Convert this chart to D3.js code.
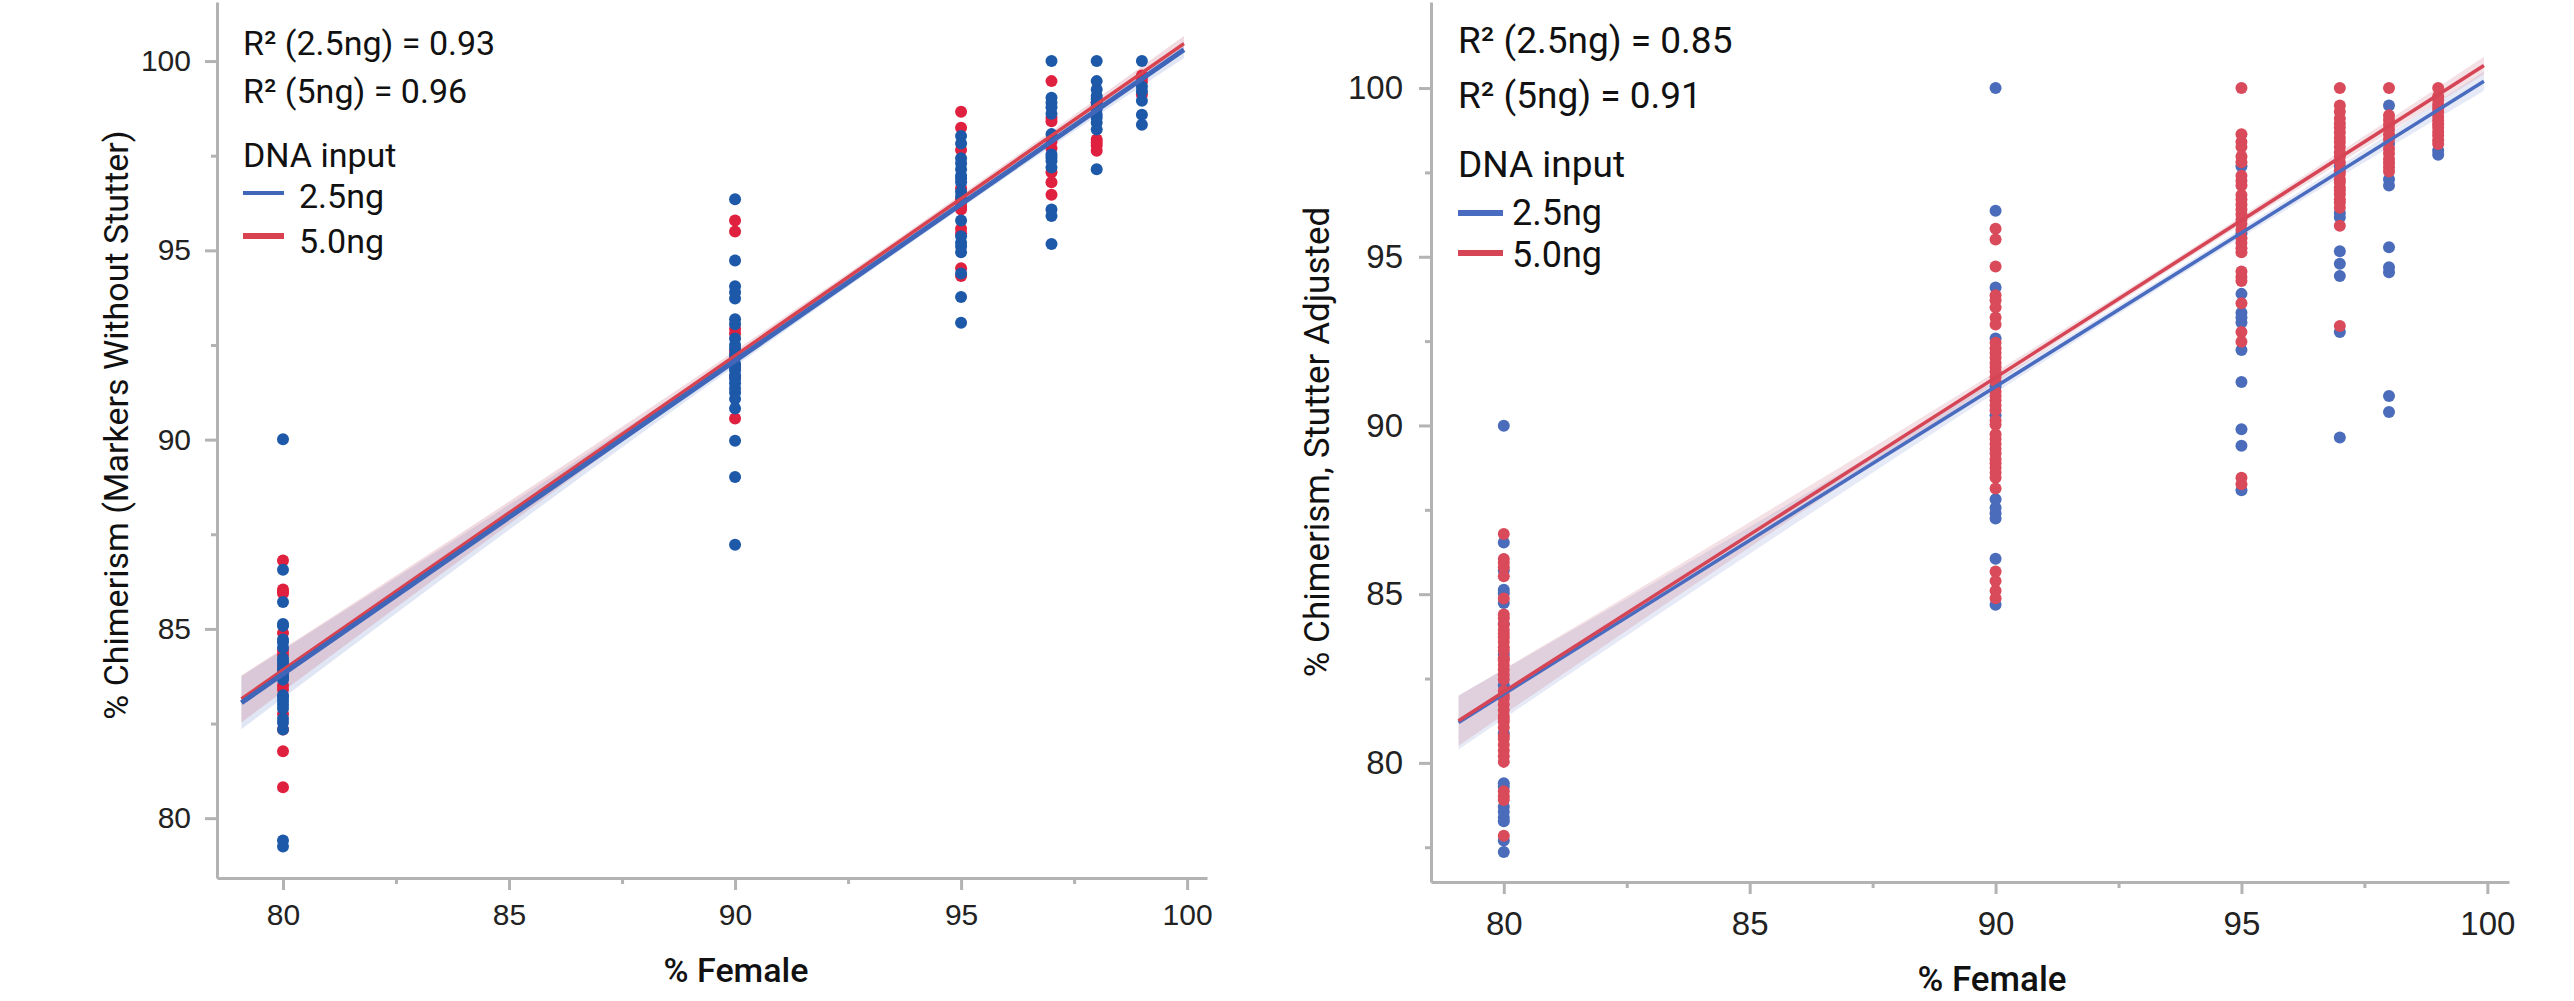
<!DOCTYPE html>
<html>
<head>
<meta charset="utf-8">
<script src="https://cdn.jsdelivr.net/npm/d3@7"></script>
<style>
  body { margin: 0; background: #fff; }
  svg { display: block; font-family: Roboto, "Noto Sans", sans-serif; }
  .axis path, .axis line { stroke: #b3b3b3; stroke-width: 3px; }
  .axis text { fill: #222; }
</style>
</head>
<body>
<svg id="chart" width="2574" height="1001"></svg>
<script>
// x levels (% Female) shared by both panels
var xLevels = [80, 90, 95, 97, 98, 99];

// left panel: % Chimerism (Markers Without Stutter), one list per x level
var marker25 = [
  [90.01, 86.56, 85.71, 85.13, 85.08, 84.72, 84.65, 84.5, 84.22, 84.15, 84.07, 83.96, 83.88, 83.81, 83.72, 83.66, 83.25, 83.2, 83.10, 83.0, 82.9, 82.63, 82.53, 82.34, 79.41, 79.25],
  [96.35, 94.73, 94.05, 93.89, 93.73, 93.18, 93.05, 92.67, 92.5, 92.4, 92.25, 92.17, 92.0, 91.9, 91.83, 91.7, 91.6, 91.49, 91.35, 91.24, 91.07, 90.82, 89.97, 89.01, 87.22],
  [98.02, 97.82, 97.43, 97.3, 97.14, 96.97, 96.9, 96.8, 96.55, 96.42, 95.79, 95.37, 95.2, 95.1, 94.95, 94.39, 93.77, 93.09],
  [100.0, 99.03, 98.9, 98.78, 98.61, 98.07, 97.53, 97.45, 97.36, 97.19, 96.08, 95.91, 95.17],
  [100.0, 99.47, 99.25, 99.08, 99.0, 98.91, 98.8, 98.74, 98.58, 98.5, 98.37, 98.19, 97.14],
  [100.0, 99.33, 99.2, 98.95, 98.58, 98.32]
];
var marker5 = [
  [86.81, 86.04, 85.98, 85.94, 84.89, 84.42, 84.32, 84.0, 83.7, 83.51, 83.4, 82.75, 82.34, 81.77, 80.82],
  [95.79, 95.5, 92.92, 92.8, 92.33, 91.95, 91.66, 90.56],
  [98.66, 98.24, 97.65, 96.64, 96.35, 96.25, 96.15, 96.08, 95.57, 95.45, 94.53, 94.32],
  [99.47, 98.5, 98.41, 97.87, 97.7, 97.06, 96.8, 96.47],
  [98.91, 97.93, 97.85, 97.77, 97.63],
  [99.62, 99.55, 99.45, 99.11]
];

// right panel: % Chimerism, Stutter Adjusted
var adj25 = [
  [89.99, 86.53, 85.7, 85.13, 85.02, 84.74, 84.12, 83.21, 82.3, 80.88, 79.4, 79.29, 78.7, 78.55, 78.38, 78.27, 77.7, 77.36],
  [100.0, 96.36, 94.09, 92.58, 91.16, 90.3, 87.81, 87.56, 87.4, 87.24, 86.05, 84.69],
  [97.68, 95.69, 93.9, 93.34, 93.2, 93.05, 92.24, 91.29, 89.89, 89.4, 88.08],
  [97.68, 96.3, 96.17, 95.16, 94.79, 94.43, 92.77, 89.64],
  [99.48, 98.34, 97.3, 97.11, 95.28, 94.69, 94.54, 90.87, 90.4],
  [98.15, 98.02]
];
var adj5 = [
  [86.78, 86.04, 85.93, 85.8, 85.53, 84.87, 84.4, 84.29, 84.1, 83.94, 83.83, 83.72, 83.58, 83.43, 83.32, 83.1, 83.04, 82.9, 82.76, 82.61, 82.47, 82.13, 82.0, 81.9, 81.73, 81.56, 81.39, 81.3, 81.22, 81.05, 80.8, 80.71, 80.54, 80.37, 80.2, 80.03, 79.16, 79.01, 78.9, 77.84],
  [95.83, 95.51, 94.71, 93.86, 93.71, 93.5, 93.2, 92.99, 92.45, 92.29, 92.15, 92.01, 91.85, 91.73, 91.6, 91.44, 91.3, 91.0, 90.87, 90.75, 90.59, 90.45, 90.15, 90.02, 89.74, 89.6, 89.45, 89.3, 89.17, 89.0, 88.88, 88.75, 88.6, 88.45, 88.13, 85.67, 85.39, 85.1, 84.88],
  [100.0, 98.63, 98.4, 98.25, 97.97, 97.8, 97.4, 97.25, 97.11, 96.83, 96.7, 96.55, 96.4, 96.26, 96.1, 95.98, 95.8, 95.55, 95.41, 95.25, 95.13, 94.56, 94.4, 94.28, 93.62, 92.77, 92.48, 88.45, 88.26],
  [100.0, 99.48, 99.3, 99.1, 98.95, 98.82, 98.68, 98.53, 98.4, 98.25, 98.1, 97.97, 97.8, 97.55, 97.45, 97.3, 97.21, 97.05, 96.96, 96.85, 96.7, 96.6, 96.45, 95.92, 92.95],
  [100.0, 99.19, 99.05, 98.91, 98.77, 98.63, 98.48, 98.2, 98.06, 97.9, 97.78, 97.65, 97.53],
  [100.0, 99.76, 99.65, 99.51, 99.4, 99.29, 99.15, 99.04, 98.93, 98.82, 98.7, 98.59, 98.45, 98.34]
];

// fitted lines (value at both ends of fitX) and confidence half-widths at bandX
var fitX = [79.08, 99.93];
var markerFit25 = [83.05, 100.30];
var markerFit5 = [83.15, 100.46];
var adjFit25 = [81.20, 100.20];
var adjFit5 = [81.25, 100.67];
var bandX = [79.08, 82, 85, 88, 91, 94, 97, 99.93];
var markerBand25 = [0.70, 0.50, 0.33, 0.20, 0.13, 0.10, 0.13, 0.22];
var markerBand5 = [0.62, 0.45, 0.30, 0.18, 0.12, 0.10, 0.12, 0.20];
var adjBand25 = [0.80, 0.58, 0.40, 0.25, 0.15, 0.12, 0.17, 0.28];
var adjBand5 = [0.74, 0.54, 0.37, 0.23, 0.14, 0.11, 0.16, 0.26];

var xTicks = [80, 85, 90, 95, 100];
var xMinor = [82.5, 87.5, 92.5, 97.5];
var leftYTicks = [80, 85, 90, 95, 100];
var leftYMinor = [82.5, 87.5, 92.5, 97.5];
var rightYTicks = [80, 85, 90, 95, 100];
var rightYMinor = [77.5, 82.5, 87.5, 92.5, 97.5];
var seriesNames = ["2.5ng", "5.0ng"];

var svg = d3.select("#chart");

function flatten(vals) {
  var out = [];
  vals.forEach(function(list, i) {
    list.forEach(function(v) { out.push({x: xLevels[i], y: v}); });
  });
  return out;
}

function drawPanel(p) {
  var x = d3.scaleLinear().domain(p.xDomain).range(p.xRange);
  var y = d3.scaleLinear().domain(p.yDomain).range(p.yRange);
  var g = svg.append("g");

  // confidence bands
  p.series.forEach(function(s) {
    var lineAt = function(v) {
      var t = (v - fitX[0]) / (fitX[1] - fitX[0]);
      return s.fit[0] + t * (s.fit[1] - s.fit[0]);
    };
    var pts = bandX.map(function(v, i) { return {x: v, c: lineAt(v), h: s.band[i]}; });
    var area = d3.area()
      .x(function(d) { return x(d.x); })
      .y0(function(d) { return y(d.c - d.h); })
      .y1(function(d) { return y(d.c + d.h); })
      .curve(d3.curveMonotoneX);
    g.append("path").datum(pts).attr("d", area)
      .attr("fill", s.bandColor);
  });

  // dots
  p.dotOrder.forEach(function(k) {
    var s = p.series[k];
    g.selectAll(null).data(flatten(s.values)).enter()
      .append("circle")
      .attr("cx", function(d) { return x(d.x); })
      .attr("cy", function(d) { return y(d.y); })
      .attr("r", 6)
      .attr("fill", s.dot);
  });

  // fit lines
  p.lineOrder.forEach(function(k) {
    var s = p.series[k];
    g.append("line")
      .attr("x1", x(fitX[0])).attr("y1", y(s.fit[0]))
      .attr("x2", x(fitX[1])).attr("y2", y(s.fit[1]))
      .attr("stroke", s.line)
      .attr("stroke-width", s.lineWidth);
  });

  // axes
  var ax = g.append("g").attr("class", "axis")
    .attr("transform", "translate(0," + p.yRange[0] + ")")
    .call(d3.axisBottom(x).tickValues(xTicks).tickSize(12).tickSizeOuter(0).tickPadding(p.xPad).tickFormat(d3.format("d")));
  ax.selectAll("text").style("font-size", p.tickFont + "px");
  g.append("g").attr("class", "axis")
    .attr("transform", "translate(0," + p.yRange[0] + ")")
    .call(d3.axisBottom(x).tickValues(xMinor).tickSize(6).tickFormat(""))
    .select(".domain").remove();

  var ay = g.append("g").attr("class", "axis")
    .attr("transform", "translate(" + p.xRange[0] + ",0)")
    .call(d3.axisLeft(y).tickValues(p.yTicks).tickSize(12).tickSizeOuter(0).tickPadding(p.yPad).tickFormat(d3.format("d")));
  ay.selectAll("text").style("font-size", p.tickFont + "px");
  g.append("g").attr("class", "axis")
    .attr("transform", "translate(" + p.xRange[0] + ",0)")
    .call(d3.axisLeft(y).tickValues(p.yMinor).tickSize(6).tickFormat(""))
    .select(".domain").remove();

  // axis titles
  g.append("text")
    .attr("x", p.xTitle[0]).attr("y", p.xTitle[1])
    .attr("text-anchor", "middle")
    .style("font-size", p.titleFont + "px").style("font-weight", 500).style("fill", "#111")
    .text("% Female");
  g.append("text")
    .attr("transform", "translate(" + p.yTitle[0] + "," + p.yTitle[1] + ") rotate(-90)")
    .attr("text-anchor", "middle")
    .attr("dy", "0.35em")
    .style("font-size", p.titleFont + "px").style("fill", "#111")
    .text(p.yLabel);

  // R² annotations and legend
  p.r2.forEach(function(t, i) {
    g.append("text")
      .attr("x", p.legendX).attr("y", p.r2Y[i])
      .style("font-size", p.noteFont + "px").style("fill", "#111")
      .text(t);
  });
  g.append("text")
    .attr("x", p.legendX).attr("y", p.legTitleY)
    .style("font-size", p.noteFont + "px").style("fill", "#111")
    .text("DNA input");
  p.series.forEach(function(s, i) {
    g.append("line")
      .attr("x1", p.legendX).attr("x2", p.legendX + p.swatchW)
      .attr("y1", p.swatchY[i]).attr("y2", p.swatchY[i])
      .attr("stroke", s.line).attr("stroke-width", s.swatchWidth);
    g.append("text")
      .attr("x", p.legendX + p.swatchW + p.swatchGap).attr("y", p.itemY[i])
      .style("font-size", p.itemFont + "px").style("fill", "#111")
      .text(seriesNames[i]);
  });
}

drawPanel({
  xDomain: [78.54, 100.44], xRange: [217, 1207],
  yDomain: [78.42, 101.56], yRange: [878, 2],
  yTicks: leftYTicks, yMinor: leftYMinor,
  tickFont: 30, xPad: 14, yPad: 14, titleFont: 34,
  noteFont: 34, itemFont: 34,
  xTitle: [736, 982], yTitle: [116, 425],
  yLabel: "% Chimerism (Markers Without Stutter)",
  r2: ["R\u00b2 (2.5ng) = 0.93", "R\u00b2 (5ng) = 0.96"],
  legendX: 243, r2Y: [55, 103], legTitleY: 167,
  swatchW: 41, swatchGap: 15, swatchY: [193, 236], itemY: [208, 253],
  dotOrder: [1, 0], lineOrder: [1, 0],
  series: [
    {values: marker25, fit: markerFit25, band: markerBand25, dot: "#1d59a8", line: "#3f66b9", lineWidth: 5, swatchWidth: 4, bandColor: "rgba(120,140,205,0.22)"},
    {values: marker5, fit: markerFit5, band: markerBand5, dot: "#e0203f", line: "#d9424f", lineWidth: 3.5, swatchWidth: 6, bandColor: "rgba(200,110,130,0.25)"}
  ]
});

drawPanel({
  xDomain: [78.52, 100.44], xRange: [1431, 2509],
  yDomain: [76.47, 102.55], yRange: [882, 2],
  yTicks: rightYTicks, yMinor: rightYMinor,
  tickFont: 33, xPad: 18, yPad: 16, titleFont: 35,
  noteFont: 37, itemFont: 36,
  xTitle: [1992, 991], yTitle: [1317, 442],
  yLabel: "% Chimerism, Stutter Adjusted",
  r2: ["R\u00b2 (2.5ng) = 0.85", "R\u00b2 (5ng) = 0.91"],
  legendX: 1458, r2Y: [53, 108], legTitleY: 177,
  swatchW: 45, swatchGap: 9, swatchY: [213, 253], itemY: [225, 267],
  dotOrder: [0, 1], lineOrder: [0, 1],
  series: [
    {values: adj25, fit: adjFit25, band: adjBand25, dot: "#4a6cba", line: "#4a6cc0", lineWidth: 3.5, swatchWidth: 6, bandColor: "rgba(130,145,210,0.2)"},
    {values: adj5, fit: adjFit5, band: adjBand5, dot: "#d94a5a", line: "#d64556", lineWidth: 3.5, swatchWidth: 6, bandColor: "rgba(205,120,135,0.22)"}
  ]
});
</script>
</body>
</html>
